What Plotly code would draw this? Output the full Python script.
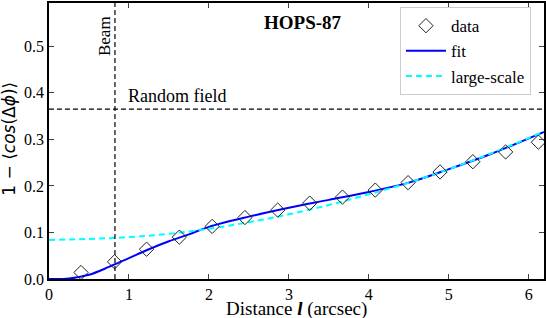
import plotly.graph_objects as go

# data points
data_l = [0.40, 0.82, 1.22, 1.63, 2.04, 2.45, 2.86, 3.26, 3.67, 4.08, 4.49, 4.89, 5.30, 5.71, 6.12]
data_y = [0.014, 0.037, 0.064, 0.090, 0.113, 0.132, 0.148, 0.163, 0.176, 0.191, 0.207, 0.230, 0.252, 0.273, 0.294]

# fit curve
fit_l = [0.0, 0.25, 0.5, 0.75, 1.0, 1.25, 1.5, 1.75, 2.0, 2.5, 3.0, 3.5, 4.0, 4.5, 5.0, 5.5, 6.0, 6.19]
fit_y = [0.0, 0.001, 0.009, 0.026, 0.045, 0.064, 0.081, 0.096, 0.112, 0.134, 0.153, 0.170, 0.187, 0.207, 0.236, 0.267, 0.302, 0.316]

# large-scale curve
ls_l = [0.0, 0.5, 1.0, 1.5, 2.0, 2.5, 3.0, 3.5, 4.0, 4.5, 5.0, 5.5, 6.0, 6.19]
ls_y = [0.084, 0.086, 0.090, 0.097, 0.108, 0.122, 0.139, 0.159, 0.182, 0.207, 0.236, 0.268, 0.303, 0.317]

beam = 0.825
random_field = 0.365
x_ticks = [0, 1, 2, 3, 4, 5, 6]
y_ticks = [0.0, 0.1, 0.2, 0.3, 0.4, 0.5]

serif = "Liberation Serif"

fig = go.Figure()
fig.add_trace(go.Scatter(x=fit_l, y=fit_y, mode="lines", name="fit",
                         line=dict(color="#0000ff", width=2, shape="spline"), legendrank=2))
fig.add_trace(go.Scatter(x=ls_l, y=ls_y, mode="lines", name="large-scale",
                         line=dict(color="#00ffff", width=2, dash="6px,4px", shape="spline"), legendrank=3))
fig.add_trace(go.Scatter(x=data_l, y=data_y, mode="markers", name="data",
                         marker=dict(symbol="diamond-open", size=11, color="#222222",
                                     line=dict(width=1, color="#222222")), legendrank=1))

fig.add_shape(type="line", x0=beam, x1=beam, y0=0, y1=1, xref="x", yref="paper",
              line=dict(color="black", width=1.2, dash="5px,3px"))
fig.add_shape(type="line", x0=0, x1=1, y0=random_field, y1=random_field, xref="paper", yref="y",
              line=dict(color="black", width=1.2, dash="5px,3px"))

fig.add_annotation(x=beam, y=0.523, xref="x", yref="y", text="Beam", textangle=-90,
                   showarrow=False, xanchor="right", yanchor="middle", xshift=1,
                   font=dict(family=serif, size=17, color="black"))
fig.add_annotation(x=beam, y=random_field, xref="x", yref="y", text="Random field",
                   showarrow=False, xanchor="left", yanchor="bottom", xshift=11, yshift=1,
                   font=dict(family=serif, size=18, color="black"))
fig.add_annotation(x=3.18, y=0.552, xref="x", yref="y", text="<b>HOPS-87</b>",
                   showarrow=False, xanchor="center", yanchor="middle",
                   font=dict(family=serif, size=19, color="black"))
# axis titles
fig.add_annotation(x=-0.08, y=0.51, xref="paper", yref="paper",
                   text="1 − ⟨<i>cos</i>(Δ<i>ϕ</i>)⟩", textangle=-90,
                   showarrow=False, xanchor="center", yanchor="middle",
                   font=dict(family="DejaVu Sans", size=17, color="black"))
fig.add_annotation(x=0.5, y=-0.109, xref="paper", yref="paper",
                   text="Distance <b><i>l</i></b> (arcsec)",
                   showarrow=False, xanchor="center", yanchor="middle",
                   font=dict(family=serif, size=19, color="black"))

fig.update_layout(
    width=546, height=318,
    margin=dict(l=49, r=2, t=3, b=39),
    paper_bgcolor="white", plot_bgcolor="white",
    font=dict(family=serif, size=16, color="black"),
    showlegend=True,
    legend=dict(x=0.709, y=0.985, xanchor="left", yanchor="top",
                bgcolor="rgba(255,255,255,0.8)", bordercolor="#cccccc", borderwidth=1,
                font=dict(family=serif, size=17), tracegroupgap=0, itemwidth=40),
)
fig.update_xaxes(range=[0, 6.19], tickvals=x_ticks, ticks="inside", ticklen=5, tickwidth=1,
                 showline=True, linecolor="black", linewidth=1.5, mirror="ticks",
                 showgrid=False, zeroline=False, automargin=False,
                 tickfont=dict(family=serif, size=16))
fig.update_yaxes(range=[0, 0.593], tickvals=y_ticks, tickformat=".1f", ticks="inside", ticklen=5,
                 tickwidth=1, showline=True, linecolor="black", linewidth=1.5, mirror="ticks",
                 showgrid=False, zeroline=False, automargin=False,
                 tickfont=dict(family=serif, size=16))

fig.write_html("out.html", config={"displayModeBar": False},
               post_script="document.body.style.margin='0';document.body.style.overflow='hidden';")
